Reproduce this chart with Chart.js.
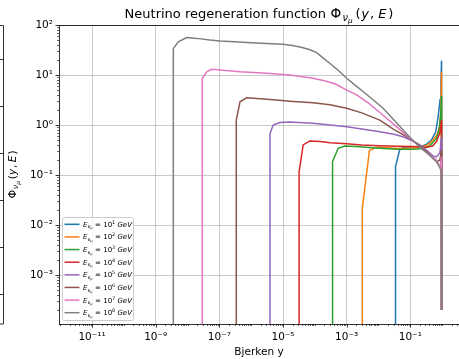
<!DOCTYPE html>
<html>
<head>
<meta charset="utf-8">
<script src="https://cdn.jsdelivr.net/npm/chart.js@4.4.1/dist/chart.umd.min.js"></script>
<style>
  html, body { margin: 0; padding: 0; background: #fff; }
  canvas { display: block; }
</style>
</head>
<body>
<canvas id="chartPhi" width="459" height="359"></canvas>
<script>
// Energy exponents: E = 10^k GeV
const energyExp = [1, 2, 3, 4, 5, 6, 7, 8];
const lineColors = ['#1f77b4', '#ff7f0e', '#2ca02c', '#d62728', '#9467bd', '#8c564b', '#e377c2', '#7f7f7f'];

// Bjorken y samples and Phi values per energy
const yE1 = [0.0343, 0.0343, 0.047, 0.062, 0.08, 0.13, 0.2, 0.32, 0.46, 0.63, 0.75, 0.86, 0.92, 0.955, 0.96];
const phiE1 = [1e-6, 0.147, 0.33, 0.355, 0.36, 0.365, 0.37, 0.41, 0.5, 0.73, 1.47, 3.2, 7, 19.3, 2e-4];

const yE2 = [0.0031, 0.0031, 0.0052, 0.0087, 0.02, 0.037, 0.1, 0.2, 0.35, 0.52, 0.7, 0.845, 0.92, 0.955, 0.96];
const phiE2 = [1e-6, 0.0216, 0.31, 0.357, 0.35, 0.34, 0.345, 0.358, 0.4, 0.5, 0.65, 0.925, 2.2, 11.6, 2e-4];

const yE3 = [3.6e-4, 3.6e-4, 5.4e-4, 8.7e-4, 2e-3, 5e-3, 0.015, 0.04, 0.122, 0.25, 0.4, 0.66, 0.8, 0.9, 0.955, 0.96];
const phiE3 = [1e-6, 0.185, 0.342, 0.38, 0.37, 0.355, 0.34, 0.328, 0.327, 0.34, 0.38, 0.54, 0.8, 1.6, 3.8, 2e-4];

const yE4 = [3.2e-5, 3.2e-5, 4.3e-5, 6.9e-5, 1.5e-4, 3e-4, 1e-3, 3e-3, 0.011, 0.04, 0.122, 0.32, 0.5, 0.66, 0.85, 0.955, 0.96];
const phiE4 = [1e-6, 0.115, 0.4, 0.48, 0.47, 0.44, 0.42, 0.4, 0.385, 0.375, 0.37, 0.36, 0.38, 0.46, 0.7, 1.26, 2e-4];

const yE5 = [3.9e-6, 3.9e-6, 4.9e-6, 8e-6, 1.65e-5, 8.7e-5, 3e-4, 1e-3, 3e-3, 0.011, 0.03, 0.059, 0.12, 0.2, 0.35, 0.52, 0.66, 0.85, 0.955, 0.96];
const phiE5 = [1e-6, 0.68, 1.0, 1.12, 1.15, 1.08, 1.0, 0.925, 0.83, 0.73, 0.65, 0.583, 0.48, 0.4, 0.3, 0.24, 0.23, 0.28, 0.575, 2e-4];

const yE6 = [3.4e-7, 3.4e-7, 4.45e-7, 7.2e-7, 1.5e-6, 5e-6, 1.65e-5, 8.7e-5, 3e-4, 1e-3, 3e-3, 0.011, 0.03, 0.096, 0.25, 0.45, 0.59, 0.7, 0.85, 0.955, 0.96];
const phiE6 = [1e-6, 1.26, 2.92, 3.5, 3.4, 3.2, 3.0, 2.8, 2.55, 2.16, 1.75, 1.25, 0.82, 0.54, 0.34, 0.24, 0.2, 0.185, 0.2, 0.316, 2e-4];

const yE7 = [2.9e-8, 2.9e-8, 4e-8, 5.7e-8, 1.05e-7, 4.45e-7, 3e-6, 1.65e-5, 8.7e-5, 2e-4, 4.5e-4, 1e-3, 2.05e-3, 5e-3, 0.012, 0.035, 0.096, 0.25, 0.45, 0.66, 0.8, 0.9, 0.955, 0.96];
const phiE7 = [1e-6, 8.6, 11.6, 13, 12.6, 11.6, 10.8, 10, 8.6, 7.7, 6.6, 5.0, 4.0, 2.7, 1.7, 0.95, 0.55, 0.316, 0.24, 0.2, 0.16, 0.15, 0.232, 2e-4];

const yE8 = [3.57e-9, 3.57e-9, 5.1e-9, 9.4e-9, 2e-8, 5e-8, 1.05e-7, 3e-7, 1e-6, 3e-6, 1e-5, 2e-5, 4e-5, 7e-5, 1.14e-4, 1.8e-4, 3e-4, 5e-4, 1e-3, 2e-3, 3e-3, 0.0138, 0.096, 0.2, 0.4, 0.66, 0.85, 0.955, 0.96];
const phiE8 = [1e-6, 34, 46, 56, 54, 50, 48, 46, 44, 42.5, 41, 39, 35.5, 32, 28, 22, 17, 13, 8.6, 6.0, 4.9, 2.19, 0.57, 0.363, 0.25, 0.185, 0.14, 0.116, 2e-4];

const ySeries = [yE1, yE2, yE3, yE4, yE5, yE6, yE7, yE8];
const phiSeries = [phiE1, phiE2, phiE3, phiE4, phiE5, phiE6, phiE7, phiE8];

// axis limits
const X_MIN = Math.pow(10, -12.04);
const X_MAX = Math.pow(10, 0.53);
const Y_MIN = Math.pow(10, -3.98);
const Y_MAX = 100;
const xLabelExp = [-11, -9, -7, -5, -3, -1];
const yLabelExp = [-3, -2, -1, 0, 1, 2];

const FONT = 'DejaVu Sans';
const TICK_SIZE = 10.5;
const GRID = 'rgba(176,176,176,0.85)';
const CLEAR = 'rgba(0,0,0,0)';
const SUP = { '-': '⁻', '0': '⁰', '1': '¹', '2': '²', '3': '³', '4': '⁴', '5': '⁵', '6': '⁶', '7': '⁷', '8': '⁸', '9': '⁹' };

function supText(n) {
  return String(n).split('').map(c => SUP[c]).join('');
}

// decade exponent if v is a power of ten, else null
function decadeOf(v) {
  const e = Math.round(Math.log10(v));
  return Math.abs(v / Math.pow(10, e) - 1) < 1e-6 ? e : null;
}

function logTicks(min, max) {
  const out = [];
  for (let e = Math.floor(Math.log10(min)); e <= Math.ceil(Math.log10(max)); e++) {
    for (let m = 1; m < 10; m++) {
      const v = m * Math.pow(10, e);
      if (v >= min && v <= max) out.push({ value: v });
    }
  }
  return out;
}

function labeled(v, list) {
  const e = decadeOf(v);
  return e !== null && list.includes(e);
}

// draws text made of pieces with their own size, slant and baseline shift
function drawRich(ctx, parts, x, y, align) {
  const fontOf = p => (p.it ? 'italic ' : '') + p.s + 'px "' + FONT + '"';
  let w = 0;
  parts.forEach(p => { ctx.font = fontOf(p); w += ctx.measureText(p.t).width + (p.gap || 0); });
  let cx = align === 'center' ? x - w / 2 : x;
  ctx.textAlign = 'left';
  ctx.textBaseline = 'alphabetic';
  parts.forEach(p => {
    ctx.font = fontOf(p);
    ctx.fillText(p.t, cx, y + (p.dy || 0));
    cx += ctx.measureText(p.t).width + (p.gap || 0);
  });
}

// Phi_{nu_mu}(y, E); sp widens the spacing between symbols
function phiLabel(size, sp) {
  const g = size / 12 * sp;
  return [
    { t: 'Φ', s: size * 1.05, gap: 1 * g },
    { t: 'ν', s: size * 0.75, it: true, dy: size * 0.22 },
    { t: 'μ', s: size * 0.55, it: true, dy: size * 0.37, gap: 2.5 * g },
    { t: '(', s: size, gap: 0.5 * g },
    { t: 'y', s: size, it: true, gap: 1 * g },
    { t: ',', s: size, gap: 3.5 * g },
    { t: 'E', s: size, it: true, gap: 1.5 * g },
    { t: ')', s: size }
  ];
}

const decor = {
  id: 'decor',
  afterDraw(chart) {
    const { ctx, chartArea: a, scales: { x, y } } = chart;
    ctx.save();
    ctx.strokeStyle = '#000';
    ctx.fillStyle = '#000';

    // top spine
    ctx.lineWidth = 0.8;
    ctx.beginPath();
    ctx.moveTo(a.left, a.top + 0.5);
    ctx.lineTo(a.right, a.top + 0.5);
    ctx.stroke();

    // tick marks, outward
    x.ticks.forEach(t => {
      const px = Math.round(x.getPixelForValue(t.value)) + 0.5;
      const big = labeled(t.value, xLabelExp);
      ctx.lineWidth = big ? 0.8 : 0.6;
      ctx.beginPath();
      ctx.moveTo(px, a.bottom);
      ctx.lineTo(px, a.bottom + (big ? 3.5 : 2));
      ctx.stroke();
    });
    y.ticks.forEach(t => {
      const py = Math.round(y.getPixelForValue(t.value)) + 0.5;
      const big = labeled(t.value, yLabelExp);
      ctx.lineWidth = big ? 0.8 : 0.6;
      ctx.beginPath();
      ctx.moveTo(a.left, py);
      ctx.lineTo(a.left - (big ? 3.5 : 2), py);
      ctx.stroke();
    });

    // edge of the neighbouring panel on the left
    ctx.lineWidth = 0.8;
    ctx.beginPath();
    ctx.moveTo(0, a.top + 0.5);
    ctx.lineTo(3.5, a.top + 0.5);
    ctx.lineTo(3.5, a.bottom);
    ctx.lineTo(0, a.bottom);
    ctx.stroke();
    [59.5, 106.5, 153.5, 200.5, 247.5, 294.5].forEach(py => {
      ctx.beginPath();
      ctx.moveTo(0, py);
      ctx.lineTo(3.5, py);
      ctx.stroke();
    });

    // title
    const cx = (a.left + a.right) / 2;
    drawRich(ctx, [{ t: 'Neutrino regeneration function ', s: 13, gap: 0.5 }].concat(phiLabel(13, 1.1)), cx, 18, 'center');

    // axis titles
    ctx.font = TICK_SIZE + 'px "' + FONT + '"';
    ctx.textAlign = 'center';
    ctx.textBaseline = 'middle';
    ctx.fillText('Bjerken y', cx, 352);
    ctx.save();
    ctx.translate(16, (a.top + a.bottom) / 2);
    ctx.rotate(-Math.PI / 2);
    drawRich(ctx, phiLabel(10.5, 0.8), 0, 0, 'center');
    ctx.restore();

    // legend
    const lx = 62, ly = 217, lw = 71, lh = 103;
    ctx.fillStyle = 'rgba(255,255,255,0.8)';
    ctx.strokeStyle = '#cccccc';
    ctx.lineWidth = 1;
    ctx.beginPath();
    ctx.roundRect(lx + 0.5, ly + 0.5, lw, lh, 2);
    ctx.fill();
    ctx.stroke();
    energyExp.forEach((k, i) => {
      const ry = 224.3 + i * 12.63;
      ctx.strokeStyle = lineColors[i];
      ctx.lineWidth = 1.5;
      ctx.beginPath();
      ctx.moveTo(64.5, ry);
      ctx.lineTo(79.5, ry);
      ctx.stroke();
      ctx.fillStyle = '#000';
      const fs = 7;
      drawRich(ctx, [
        { t: 'E', s: fs, it: true },
        { t: 'ν', s: fs * 0.7, it: true, dy: 1.6 },
        { t: 'μ', s: fs * 0.5, it: true, dy: 2.6, gap: 0.5 },
        { t: ' = ', s: fs },
        { t: '10', s: fs },
        { t: String(k), s: fs * 0.7, dy: -3 },
        { t: ' ', s: fs },
        { t: 'GeV', s: fs, it: true }
      ], 83, ry + 2.5, 'left');
    });
    ctx.restore();
  }
};

const datasets = energyExp.map((k, i) => ({
  label: 'E = 10^' + k + ' GeV',
  data: ySeries[i].map((v, j) => ({ x: v, y: phiSeries[i][j] })),
  borderColor: lineColors[i],
  backgroundColor: lineColors[i],
  borderWidth: 1.5,
  pointRadius: 0,
  tension: 0,
  fill: false,
  order: energyExp.length - 1 - i
}));

new Chart(document.getElementById('chartPhi'), {
  type: 'line',
  data: { datasets },
  options: {
    responsive: false,
    animation: false,
    devicePixelRatio: 1,
    layout: { padding: { top: 25, left: 0, right: 0, bottom: 0 } },
    plugins: {
      legend: { display: false },
      title: { display: false },
      tooltip: { enabled: false }
    },
    scales: {
      x: {
        type: 'logarithmic',
        min: X_MIN,
        max: X_MAX,
        afterBuildTicks: s => { s.ticks = logTicks(X_MIN, X_MAX); },
        afterFit: s => { s.height = 35; },
        ticks: {
          autoSkip: false,
          maxRotation: 0,
          minRotation: 0,
          padding: 0,
          color: '#000',
          font: { family: FONT, size: TICK_SIZE },
          callback: v => labeled(v, xLabelExp) ? '10' + supText(decadeOf(v)) : ''
        },
        grid: {
          drawTicks: true,
          tickLength: 7,
          tickColor: CLEAR,
          lineWidth: 0.8,
          color: c => (c.tick && labeled(c.tick.value, xLabelExp)) ? GRID : CLEAR
        },
        border: { color: '#000', width: 0.8 }
      },
      y: {
        type: 'logarithmic',
        min: Y_MIN,
        max: Y_MAX,
        afterBuildTicks: s => { s.ticks = logTicks(Y_MIN, Y_MAX); },
        afterFit: s => { s.width = 59; },
        ticks: {
          autoSkip: false,
          padding: 6,
          color: '#000',
          font: { family: FONT, size: TICK_SIZE },
          callback: v => labeled(v, yLabelExp) ? '10' + supText(decadeOf(v)) : ''
        },
        grid: {
          drawTicks: false,
          lineWidth: 0.8,
          color: c => (c.tick && labeled(c.tick.value, yLabelExp)) ? GRID : CLEAR
        },
        border: { color: '#000', width: 0.8 }
      }
    }
  },
  plugins: [decor]
});
</script>
</body>
</html>
